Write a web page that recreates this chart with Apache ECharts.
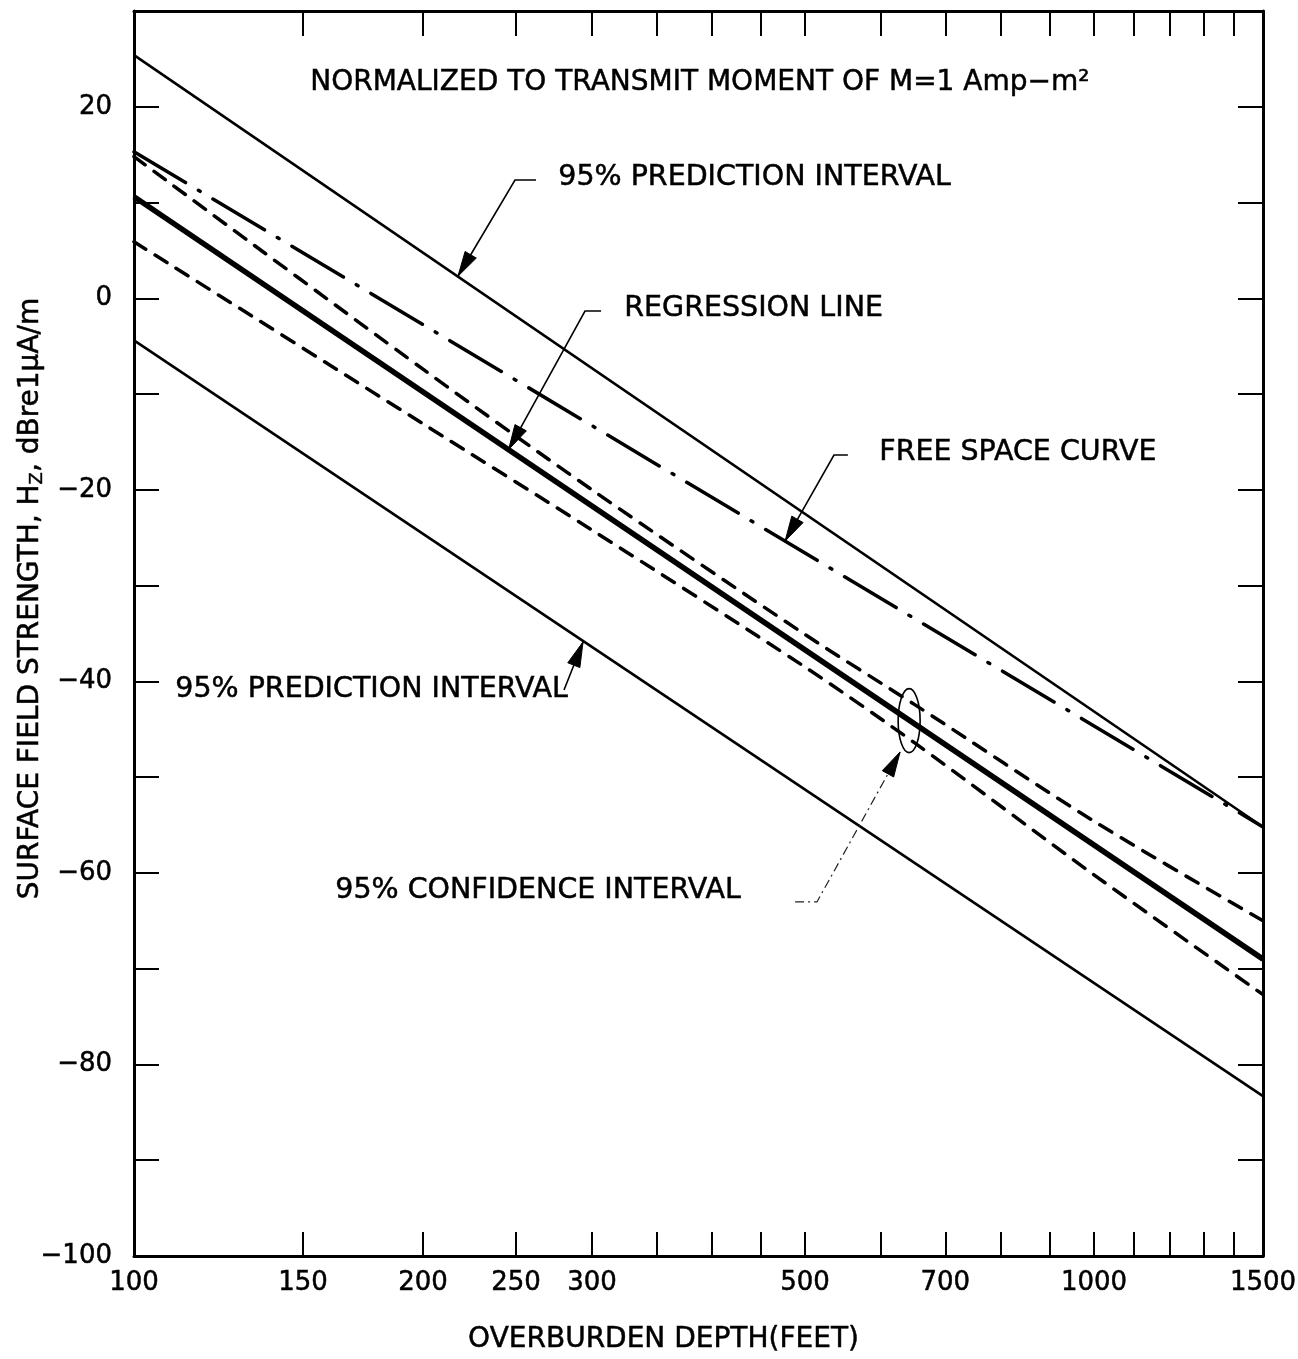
<!DOCTYPE html>
<html><head><meta charset="utf-8">
<script src="https://cdn.jsdelivr.net/npm/echarts@6/dist/echarts.min.js"></script>
<style>html,body{margin:0;padding:0;background:#fff}#c{width:1298px;height:1359px}</style>
</head><body><div id="c"></div>
<script>
// ---- data (depth in feet, field strength in dB re 1 uA/m) ----
const lineDepths = [100, 1500];
const predictionUpper = [25.4, -55.2];
const freeSpace = [15.3, -55.2];
const regression = [10.6, -69.0];
const predictionLower = [-4.4, -83.3];
const confDepths = [100, 200, 300, 500, 650, 1000, 1500];
const confUpper = [14.8, -7.4, -20.0, -35.1, -42.4, -54.6, -65.0];
const confLower = [5.9, -13.1, -24.2, -38.5, -46.4, -60.2, -72.7];
const xTickValues = [100,150,200,250,300,350,400,450,500,600,700,800,900,1000,1100,1200,1300,1400,1500];
const xLabelValues = [100,150,200,250,300,500,700,1000,1500];
const yMin = -100, yMax = 30, yStep = 10;

// annotation leaders in data coordinates (depth, dB)
const annotations = [
  {text:'95% PREDICTION INTERVAL', path:[[262.3,12.35],[249.4,12.35],[217.5,2.3]]},
  {text:'REGRESSION LINE', path:[[306.6,-1.33],[295.0,-1.33],[245.6,-15.8]]},
  {text:'FREE SPACE CURVE', path:[[554.2,-16.36],[536.0,-16.36],[476.7,-25.35]]},
  {text:'95% PREDICTION INTERVAL', path:[[280.5,-40.9],[293.6,-35.88]]},
  {text:'95% CONFIDENCE INTERVAL', path:[[488.3,-63.03],[514.6,-63.03],[628.1,-47.37]], dotted:true}
];
const textPos = [[558,180],[624,311],[879,455],[175,692],[335,893]];
const ellipseCenter = [641.9, -44.1];

const FONT = 'DejaVu Sans';
const TXT = {fill:'#000', stroke:'#000', lineWidth:0.5};
const pairs = (xs, ys) => xs.map((x, i) => [x, ys[i]]);
const fmtY = v => (v % 20 === 0 && v <= 20) ? (v < 0 ? '\u2212' + (-v) : String(v)) : '';

const chart = echarts.init(document.getElementById('c'), null, {renderer:'canvas'});
const xCommon = {
  type:'log', logBase:10, min:100, max:1500,
  axisLine:{show:true, onZero:false, lineStyle:{color:'#000', width:3}},
  splitLine:{show:false}, minorTick:{show:false}
};
const yCommon = {
  type:'value', min:yMin, max:yMax, interval:yStep,
  axisLine:{show:true, onZero:false, lineStyle:{color:'#000', width:3}},
  axisTick:{show:true, inside:true, length:25, lineStyle:{color:'#000', width:2}},
  splitLine:{show:false}
};
const lineSeries = (name, xs, ys, width, type, cap, smooth) => ({
  name, type:'line', data:pairs(xs, ys), symbol:'none', smooth: smooth || false,
  lineStyle:{color:'#000', width, type, cap: cap || 'butt'}, silent:true, z:3
});
const labelStyle = {fontFamily:FONT, fontSize:26, color:'#000', textBorderColor:'#000', textBorderWidth:0.5};

chart.setOption({
  animation:false,
  backgroundColor:'#fff',
  grid:{left:134, right:35, top:11, bottom:103, containLabel:false, outerBoundsMode:'none'},
  xAxis:[
    Object.assign({}, xCommon, {
      position:'bottom',
      name:'OVERBURDEN DEPTH(FEET)', nameLocation:'middle', nameGap:70, nameMoveOverlap:false,
      nameTextStyle:Object.assign({}, labelStyle, {fontSize:28, padding:[0,70,0,0]}),
      axisTick:{show:true, inside:true, length:24, customValues:xTickValues, lineStyle:{color:'#000', width:2}},
      axisLabel:Object.assign({show:true, customValues:xLabelValues, margin:14,
        formatter: v => String(Math.round(v))}, labelStyle)
    }),
    Object.assign({}, xCommon, {
      position:'top',
      axisTick:{show:true, inside:true, length:25, customValues:xTickValues, lineStyle:{color:'#000', width:2}},
      axisLabel:{show:false}
    })
  ],
  yAxis:[
    Object.assign({}, yCommon, {
      position:'left',
      name:'SURFACE FIELD STRENGTH, H{s|Z}, dBre1\u03bcA/m', nameLocation:'middle', nameGap:88, nameRotate:90,
      nameMoveOverlap:false,
      nameTextStyle:Object.assign({}, labelStyle, {fontSize:28, padding:[0,0,0,70],
        rich:{s:{fontFamily:FONT, fontSize:18, color:'#000', textBorderColor:'#000', textBorderWidth:0.4,
          verticalAlign:'bottom', padding:[12,0,0,0]}}}),
      axisLabel:Object.assign({show:true, formatter:fmtY, margin:22}, labelStyle)
    }),
    Object.assign({}, yCommon, {position:'right', axisLabel:{show:false}})
  ],
  series:[
    lineSeries('95% prediction upper', lineDepths, predictionUpper, 2.6, 'solid'),
    lineSeries('Free space curve', lineDepths, freeSpace, 3.5, [60,15,2,15], 'round'),
    lineSeries('95% confidence upper', confDepths, confUpper, 3.5, [14,11], 'round', 0.3),
    lineSeries('Regression line', lineDepths, regression, 5.5, 'solid'),
    lineSeries('95% confidence lower', confDepths, confLower, 3.5, [14,11], 'round', 0.3),
    lineSeries('95% prediction lower', lineDepths, predictionLower, 2.6, 'solid')
  ]
});

// ---- annotations drawn through the grid's coordinate conversion ----
const toPx = p => chart.convertToPixel({gridIndex:0}, p);
const graphics = [];
graphics.push({type:'text', left:310, top:85 - 17, z:10,
  style:Object.assign({text:'NORMALIZED TO TRANSMIT MOMENT OF M=1 Amp\u2212m\u00b2', font:'28px "' + FONT + '"'}, TXT)});
annotations.forEach((a, i) => {
  const pts = a.path.map(toPx);
  graphics.push({type:'polyline', z:10, shape:{points:pts},
    style:{stroke: a.dotted ? '#222' : '#000', lineWidth: a.dotted ? 1.2 : 1.6, fill:null,
      lineDash: a.dotted ? [9,4,2,4] : null}});
  const tip = pts[pts.length - 1], prev = pts[pts.length - 2];
  const dx = tip[0] - prev[0], dy = tip[1] - prev[1], L = Math.hypot(dx, dy);
  const ux = dx / L, uy = dy / L, len = 25, hw = 6.5;
  const bx = tip[0] - ux * len, by = tip[1] - uy * len;
  graphics.push({type:'polygon', z:11, shape:{points:[tip, [bx - uy * hw, by + ux * hw], [bx + uy * hw, by - ux * hw]]},
    style:{fill:'#000', stroke:'#000', lineWidth:1}});
  graphics.push({type:'text', left:textPos[i][0], top:textPos[i][1] - 17, z:10,
    style:Object.assign({text:a.text, font:'28.5px "' + FONT + '"'}, TXT)});
});
const ec = toPx(ellipseCenter);
graphics.push({type:'ellipse', z:12, shape:{cx:ec[0], cy:ec[1], rx:11, ry:32},
  style:{fill:null, stroke:'#000', lineWidth:1.6}});
chart.setOption({graphic:graphics});
</script>
</body></html>
